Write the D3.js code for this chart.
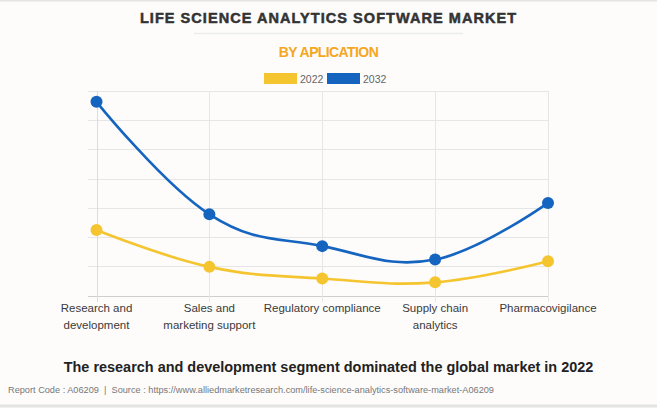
<!DOCTYPE html>
<html><head><meta charset="utf-8">
<script src="https://cdn.jsdelivr.net/npm/d3@7"></script>
<style>
html,body{margin:0;padding:0;background:#fdfcfb;}
svg{display:block;}
</style></head>
<body>
<script>
const categories = [["Research and","development"],["Sales and","marketing support"],["Regulatory compliance"],["Supply chain","analytics"],["Pharmacovigilance"]];
const series2022 = [2.24, 0.98, 0.58, 0.45, 1.17];
const series2032 = [6.63, 2.78, 1.69, 1.23, 3.17];
const seriesNames = ["2022","2032"];
const colors = ["#f5c530","#1565c0"];
const yTicks = [0,1,2,3,4,5,6,7];

const W = 657, H = 408;
const svg = d3.select("body").append("svg").attr("width", W).attr("height", H);
svg.append("rect").attr("width", W).attr("height", H).attr("fill", "#fdfcfb");
svg.append("line").attr("x1",0).attr("x2",W).attr("y1",0.5).attr("y2",0.5).attr("stroke","#e4e4e4").attr("stroke-width",2);
svg.append("line").attr("x1",0).attr("x2",W).attr("y1",406).attr("y2",406).attr("stroke","#e4e4e4").attr("stroke-width",3);

svg.append("text").attr("x", 328.5).attr("y", 23).attr("text-anchor","middle")
  .attr("font-family","Liberation Sans, Arial, sans-serif").attr("font-weight","900").attr("font-size",14.5)
  .attr("letter-spacing","1.05px").attr("fill","#333").attr("stroke","#333").attr("stroke-width",0.5)
  .text("LIFE SCIENCE ANALYTICS SOFTWARE MARKET");
svg.append("line").attr("x1",194).attr("x2",463).attr("y1",33.5).attr("y2",33.5).attr("stroke","#ececec").attr("stroke-width",1.5);
svg.append("text").attr("x", 328.5).attr("y", 57).attr("text-anchor","middle")
  .attr("font-family","Liberation Sans, Arial, sans-serif").attr("font-weight","bold").attr("font-size",14)
  .attr("letter-spacing","-0.6px").attr("fill","#f5a623").text("BY APLICATION");

const legend = [{x:264, name:seriesNames[0], c:colors[0]},{x:327, name:seriesNames[1], c:colors[1]}];
legend.forEach(l=>{
  svg.append("rect").attr("x",l.x).attr("y",73).attr("width",33).attr("height",11).attr("fill",l.c);
  svg.append("text").attr("x",l.x+36).attr("y",82.5).attr("font-family","Liberation Sans, Arial, sans-serif")
    .attr("font-size",10.5).attr("fill","#666").text(l.name);
});

const x = d3.scalePoint().domain(d3.range(categories.length)).range([96.5, 548]);
const y = d3.scaleLinear().domain([0,7]).range([295.5, 91]);

const g = svg.append("g");
g.selectAll(".hg").data(yTicks).join("line")
  .attr("x1",88).attr("x2",548).attr("y1",d=>Math.round(y(d))+0.5).attr("y2",d=>Math.round(y(d))+0.5)
  .attr("stroke",d=>d===0?"#cfcfcf":"#e6e6e6").attr("stroke-width",1);
g.selectAll(".vg").data(d3.range(categories.length)).join("line")
  .attr("x1",d=>Math.round(x(d))+0.5).attr("x2",d=>Math.round(x(d))+0.5).attr("y1",91).attr("y2",302)
  .attr("stroke",(d,i)=>i===0?"#dcdcdc":"#e6e6e6").attr("stroke-width",1);

categories.forEach((lines,i)=>{
  const t = g.append("text").attr("text-anchor","middle").attr("font-family","Liberation Sans, Arial, sans-serif")
    .attr("font-size",11.5).attr("fill","#3a3a3a");
  lines.forEach((ln,j)=>{
    t.append("tspan").attr("x",x(i)).attr("y",312+j*17).text(ln);
  });
});

const line = d3.line().x((d,i)=>x(i)).y(d=>y(d)).curve(d3.curveCardinal.tension(-0.2));
[series2022, series2032].forEach((s,k)=>{
  g.append("path").datum(s).attr("d",line).attr("fill","none").attr("stroke",colors[k]).attr("stroke-width",2.6);
  g.selectAll(".p"+k).data(s).join("circle").attr("cx",(d,i)=>x(i)).attr("cy",d=>y(d)).attr("r",6)
    .attr("fill",colors[k]);
});

svg.append("text").attr("x",328.5).attr("y",372).attr("text-anchor","middle")
  .attr("font-family","Liberation Sans, Arial, sans-serif").attr("font-weight","bold").attr("font-size",14.45)
  .attr("fill","#222")
  .text("The research and development segment dominated the global market in 2022");
svg.append("text").attr("x",8).attr("y",393).style("white-space","pre")
  .attr("font-family","Liberation Sans, Arial, sans-serif").attr("font-size",9.2).attr("fill","#777")
  .text("Report Code : A06209  |  Source : https://www.alliedmarketresearch.com/life-science-analytics-software-market-A06209");
</script>
</body></html>
